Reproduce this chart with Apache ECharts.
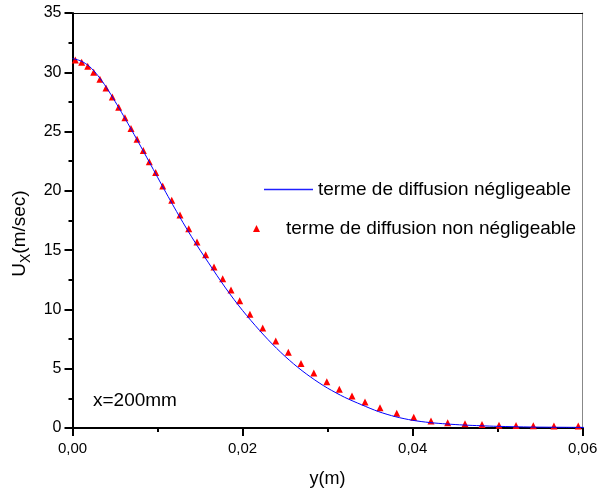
<!DOCTYPE html>
<html>
<head>
<meta charset="utf-8">
<script src="https://cdn.jsdelivr.net/npm/echarts@6/dist/echarts.min.js"></script>
<style>html,body{margin:0;padding:0;background:#fff;}#c{width:600px;height:491px;}</style>
</head>
<body>
<div id="c"></div>
<script>
// Series names
const nameLine = 'terme de diffusion négligeable';
const nameTri = 'terme de diffusion non négligeable';

// Blue line: y (m) and Ux (m/sec)
const lineX = [0,0.001,0.002,0.003,0.004,0.005,0.006,0.007,0.008,0.009,0.010,0.011,0.012,0.013,0.014,0.015,0.016,0.017,0.018,0.019,0.020,0.021,0.022,0.023,0.024,0.025,0.026,0.027,0.028,0.029,0.030,0.032,0.034,0.036,0.038,0.040,0.042,0.044,0.046,0.048,0.050,0.054,0.058,0.062];
const lineY = [31.16,30.95,30.49,29.71,28.71,27.55,26.33,25.07,23.78,22.47,21.15,19.84,18.56,17.32,16.13,15.00,13.93,12.85,11.81,10.83,9.91,9.05,8.23,7.45,6.72,6.04,5.41,4.83,4.30,3.81,3.36,2.59,1.96,1.38,0.95,0.65,0.46,0.34,0.25,0.19,0.14,0.08,0.06,0.04];

// Red triangles: y (m) and Ux (m/sec)
const triX = [0.00033,0.00108,0.00179,0.00249,0.00323,0.00394,0.00468,0.00543,0.00617,0.00688,0.00759,0.00833,0.00903,0.00978,0.01061,0.01167,0.01264,0.01367,0.01464,0.01566,0.01664,0.01766,0.01864,0.01966,0.02087,0.02237,0.02390,0.02538,0.02687,0.02838,0.02991,0.03138,0.03287,0.03440,0.03616,0.03813,0.04013,0.04216,0.04412,0.04616,0.04816,0.05016,0.05216,0.05419,0.05662,0.05948];
const triY = [31.04,30.84,30.51,30.01,29.41,28.68,27.92,27.06,26.17,25.26,24.35,23.40,22.46,21.55,20.41,19.20,17.96,16.81,15.69,14.62,13.58,12.59,11.64,10.74,9.60,8.43,7.34,6.38,5.45,4.64,3.90,3.27,2.70,2.19,1.71,1.24,0.91,0.59,0.45,0.36,0.30,0.23,0.21,0.19,0.17,0.17];

const xTitle = 'y(m)';
const annotation = 'x=200mm';

const FF = 'Liberation Sans, Arial, sans-serif';
const chart = echarts.init(document.getElementById('c'));
chart.setOption({
  backgroundColor: '#fff',
  animation: false,
  grid: {left: 72.5, right: 17.3, top: 13, bottom: 63, containLabel: false, outerBoundsMode: 'none'},
  title: {text: annotation, left: 93, top: 391, padding: 0, textStyle: {fontFamily: FF, fontSize: 19, fontWeight: 'normal', color: '#000'}},
  legend: [
    {data: [{name: nameLine, icon: 'rect', itemStyle: {color: '#2020ff', borderWidth: 0}}], left: 264, top: 180, padding: 0, itemWidth: 49, itemHeight: 1.5,
     itemStyle: {color: '#2020ff', borderWidth: 0},
     textStyle: {fontFamily: FF, fontSize: 19, color: '#000'}},
    {data: [{name: nameTri, icon: 'triangle'}], left: 253, top: 219, padding: 0, itemWidth: 7, itemHeight: 7,
     textStyle: {fontFamily: FF, fontSize: 19, color: '#000', padding: [0,0,0,21]}}
  ],
  xAxis: [
    {type: 'value', min: 0, max: 0.06, interval: 0.02, name: xTitle, nameLocation: 'middle', nameGap: 42,
     nameTextStyle: {fontFamily: FF, fontSize: 18, color: '#000'},
     axisLine: {onZero: false, lineStyle: {color: '#000', width: 2}},
     axisTick: {show: true, inside: false, length: 8, lineStyle: {color: '#000', width: 2}},
     minorTick: {show: true, splitNumber: 2, length: 4, lineStyle: {color: '#000', width: 2}},
     splitLine: {show: false},
     axisLabel: {fontFamily: FF, fontSize: 15, color: '#000', margin: 13, formatter: v => v.toFixed(2).replace('.', ',')}},
    {type: 'value', position: 'top', min: 0, max: 0.06, axisLine: {show: true, onZero: false, lineStyle: {color: '#000', width: 1}},
     axisTick: {show: false}, axisLabel: {show: false}, splitLine: {show: false}}
  ],
  yAxis: [
    {type: 'value', min: 0, max: 35, interval: 5,
     name: '{a|U}{b|X}{a|(m/sec)}{sp|}', nameLocation: 'middle', nameGap: 39, nameRotate: 90,
     nameTextStyle: {fontFamily: FF, fontSize: 19, color: '#000',
       rich: {a: {fontFamily: FF, fontSize: 19, color: '#000', lineHeight: 26, verticalAlign: 'middle'},
              b: {fontFamily: FF, fontSize: 14, color: '#000', lineHeight: 26, verticalAlign: 'bottom'},
              sp: {width: 26, lineHeight: 26}}},
     axisLine: {onZero: false, lineStyle: {color: '#000', width: 2}},
     axisTick: {show: true, inside: false, length: 8, lineStyle: {color: '#000', width: 2}},
     minorTick: {show: true, splitNumber: 2, length: 4, lineStyle: {color: '#000', width: 2}},
     splitLine: {show: false},
     axisLabel: {fontFamily: FF, fontSize: 16, color: '#000', margin: 11}},
    {type: 'value', position: 'right', min: 0, max: 35, axisLine: {show: true, onZero: false, lineStyle: {color: '#888', width: 1}},
     axisTick: {show: false}, axisLabel: {show: false}, splitLine: {show: false}}
  ],
  series: [
    {name: nameLine, type: 'line', symbol: 'none', smooth: 0.3, clip: false, color: '#0000ff',
     lineStyle: {color: '#0000ff', width: 1}, data: lineX.map((x, i) => [x, lineY[i]])},
    {name: nameTri, type: 'scatter', symbol: 'triangle', symbolSize: 7, color: '#ff0000',
     itemStyle: {color: '#ff0000', opacity: 1}, data: triX.map((x, i) => [x, triY[i]])}
  ]
});
</script>
</body>
</html>
